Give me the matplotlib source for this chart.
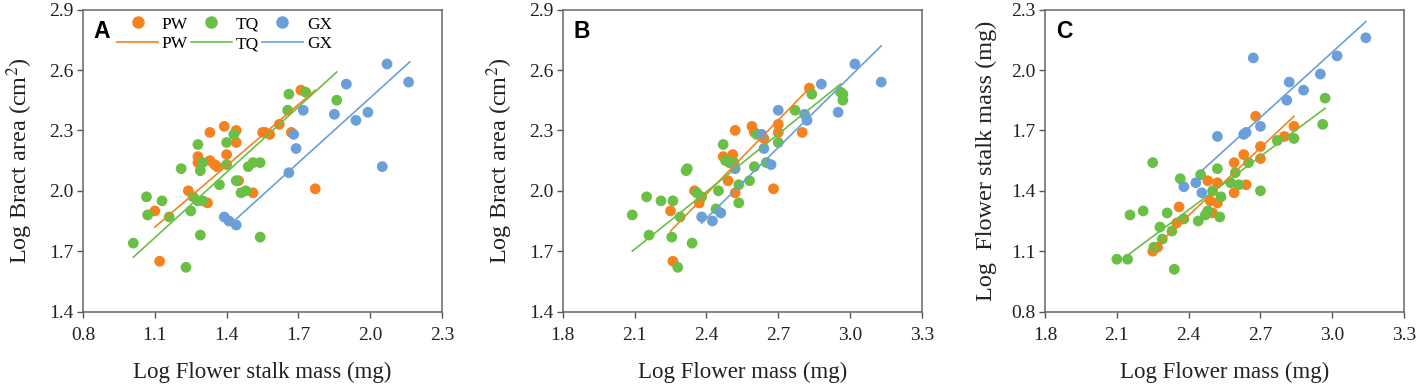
"""three panel scatter with fitted lines: PW / TQ / GX"""
import matplotlib
matplotlib.use("Agg")
import matplotlib.pyplot as plt
from matplotlib.lines import Line2D
import numpy as np

plt.rcParams['font.family'] = ['Liberation Serif', 'DejaVu Serif']
plt.rcParams['mathtext.fontset'] = 'stix'

orange = '#f5821f'
green = '#6abf45'
blue = '#6a9fd9'

# ---- panel A: log flower stalk mass vs log bract area
a_pw_x = [1.10, 1.12, 1.24, 1.28, 1.28, 1.32, 1.33, 1.33, 1.35, 1.36, 1.39, 1.40, 1.44, 1.44,
          1.45, 1.51, 1.55, 1.56, 1.58, 1.62, 1.67, 1.71, 1.77]
a_pw_y = [1.90, 1.65, 2.00, 2.17, 2.14, 1.94, 2.29, 2.15, 2.13, 2.12, 2.32, 2.18, 2.30, 2.24,
          2.05, 1.99, 2.29, 2.29, 2.28, 2.33, 2.29, 2.50, 2.01]
a_tq_x = [1.01, 1.065, 1.07, 1.13, 1.16, 1.21, 1.23, 1.25, 1.26, 1.28, 1.29, 1.29, 1.30, 1.28,
          1.30, 1.37, 1.40, 1.40, 1.43, 1.44, 1.46, 1.48, 1.49, 1.51, 1.54, 1.54, 1.655, 1.66,
          1.73, 1.86]
a_tq_y = [1.74, 1.97, 1.88, 1.95, 1.87, 2.11, 1.62, 1.90, 1.97, 2.23, 1.78, 2.10, 2.14, 1.95,
          1.95, 2.03, 2.24, 2.13, 2.28, 2.05, 1.99, 2.00, 2.12, 2.14, 2.14, 1.77, 2.40, 2.48,
          2.49, 2.45]
a_gx_x = [1.39, 1.41, 1.44, 1.66, 1.68, 1.69, 1.72, 1.85, 1.90, 1.94, 1.99, 2.05, 2.07, 2.16]
a_gx_y = [1.87, 1.85, 1.83, 2.09, 2.28, 2.21, 2.40, 2.38, 2.53, 2.35, 2.39, 2.12, 2.63, 2.54]
a_pw_fit = ([1.10, 1.77], [1.82, 2.50])
a_tq_fit = ([1.01, 1.86], [1.67, 2.59])
a_gx_fit = ([1.435, 2.165], [1.855, 2.64])

# ---- panel B: log flower mass vs log bract area
b_pw_x = [2.25, 2.26, 2.35, 2.37, 2.47, 2.49, 2.51, 2.52, 2.52, 2.59, 2.60, 2.63, 2.64, 2.68,
          2.70, 2.70, 2.80, 2.83]
b_pw_y = [1.90, 1.65, 2.00, 1.94, 2.17, 2.05, 2.18, 2.30, 1.99, 2.32, 2.29, 2.28, 2.26, 2.01,
          2.33, 2.29, 2.29, 2.51]
b_tq_x = [2.09, 2.15, 2.16, 2.21, 2.26, 2.255, 2.29, 2.315, 2.32, 2.34, 2.36, 2.38, 2.28, 2.44,
          2.45, 2.47, 2.48, 2.495, 2.515, 2.535, 2.535, 2.58, 2.60, 2.61, 2.65, 2.70, 2.77,
          2.84, 2.96, 2.97, 2.97]
b_tq_y = [1.88, 1.97, 1.78, 1.95, 1.95, 1.77, 1.87, 2.10, 2.11, 1.74, 1.99, 1.97, 1.62, 1.91,
          2.00, 2.23, 2.15, 2.14, 2.14, 2.03, 1.94, 2.05, 2.12, 2.28, 2.14, 2.24, 2.40, 2.48,
          2.49, 2.48, 2.45]
b_gx_x = [2.38, 2.425, 2.46, 2.52, 2.63, 2.64, 2.67, 2.70, 2.81, 2.82, 2.88, 2.95, 3.02, 3.13]
b_gx_y = [1.87, 1.85, 1.89, 2.11, 2.28, 2.21, 2.13, 2.40, 2.38, 2.35, 2.53, 2.39, 2.63, 2.54]
b_pw_fit = ([2.25, 2.83], [1.80, 2.51])
b_tq_fit = ([2.09, 2.96], [1.70, 2.53])
b_gx_fit = ([2.38, 3.13], [1.84, 2.72])

# ---- panel C: log flower mass vs log flower stalk mass
c_pw_x = [2.25, 2.27, 2.36, 2.35, 2.48, 2.49, 2.50, 2.52, 2.52, 2.59, 2.59, 2.63, 2.64, 2.68,
          2.70, 2.70, 2.80, 2.84]
c_pw_y = [1.10, 1.12, 1.32, 1.24, 1.45, 1.35, 1.29, 1.44, 1.34, 1.39, 1.54, 1.58, 1.43, 1.77,
          1.56, 1.62, 1.67, 1.72]
c_tq_x = [2.10, 2.145, 2.155, 2.21, 2.25, 2.255, 2.28, 2.29, 2.31, 2.33, 2.34, 2.365, 2.38,
          2.44, 2.45, 2.47, 2.48, 2.50, 2.52, 2.535, 2.53, 2.575, 2.595, 2.61, 2.65, 2.70,
          2.77, 2.84, 2.96, 2.97]
c_tq_y = [1.06, 1.06, 1.28, 1.30, 1.54, 1.12, 1.22, 1.16, 1.29, 1.20, 1.01, 1.46, 1.26,
          1.25, 1.48, 1.28, 1.30, 1.40, 1.51, 1.37, 1.27, 1.44, 1.49, 1.43, 1.54, 1.40,
          1.65, 1.66, 1.73, 1.86]
c_gx_x = [2.38, 2.43, 2.455, 2.52, 2.63, 2.64, 2.67, 2.70, 2.81, 2.82, 2.88, 2.95, 3.02, 3.14]
c_gx_y = [1.42, 1.44, 1.39, 1.67, 1.68, 1.69, 2.06, 1.72, 1.85, 1.94, 1.90, 1.98, 2.07, 2.16]
c_pw_fit = ([2.25, 2.84], [1.11, 1.77])
c_tq_fit = ([2.145, 2.97], [1.08, 1.81])
c_gx_fit = ([2.455, 3.14], [1.50, 2.24])

panels = [
    dict(letter='A', pw=(a_pw_x, a_pw_y), tq=(a_tq_x, a_tq_y), gx=(a_gx_x, a_gx_y),
         fits=(a_pw_fit, a_tq_fit, a_gx_fit), xlim=(0.8, 2.3), ylim=(1.4, 2.9),
         xlabel='Log Flower stalk mass (mg)', ylabel='Log Bract area (cm$^2$)'),
    dict(letter='B', pw=(b_pw_x, b_pw_y), tq=(b_tq_x, b_tq_y), gx=(b_gx_x, b_gx_y),
         fits=(b_pw_fit, b_tq_fit, b_gx_fit), xlim=(1.8, 3.3), ylim=(1.4, 2.9),
         xlabel='Log Flower mass (mg)', ylabel='Log Bract area (cm$^2$)'),
    dict(letter='C', pw=(c_pw_x, c_pw_y), tq=(c_tq_x, c_tq_y), gx=(c_gx_x, c_gx_y),
         fits=(c_pw_fit, c_tq_fit, c_gx_fit), xlim=(1.8, 3.3), ylim=(0.8, 2.3),
         xlabel='Log Flower mass (mg)', ylabel='Log  Flower stalk mass (mg)'),
]

fig = plt.figure(figsize=(14.17, 3.89), dpi=100)
lefts = [0.0586, 0.3972, 0.7375]
colors = [orange, green, blue]

for p, left in zip(panels, lefts):
    ax = fig.add_axes([left, 0.199, 0.2534, 0.7763])
    for key, c in zip(['pw', 'tq', 'gx'], colors):
        ax.scatter(p[key][0], p[key][1], s=60, color=c, edgecolors='none', zorder=2)
    for fit, c in zip(p['fits'], colors):
        ax.plot(fit[0], fit[1], color=c, lw=1.2, zorder=3)
    ax.set_xlim(*p['xlim'])
    ax.set_ylim(*p['ylim'])
    ax.set_xticks(np.arange(p['xlim'][0], p['xlim'][1] + 0.01, 0.3))
    ax.set_yticks(np.arange(p['ylim'][0], p['ylim'][1] + 0.01, 0.3))
    ax.xaxis.set_major_formatter(matplotlib.ticker.FormatStrFormatter('%.1f'))
    ax.yaxis.set_major_formatter(matplotlib.ticker.FormatStrFormatter('%.1f'))
    ax.tick_params(direction='out', length=4, width=1, color='#555555',
                   labelsize=14, labelcolor='#222222')
    ax.tick_params(axis='x', pad=7)
    ax.tick_params(axis='y', pad=3)
    for s in ax.spines.values():
        s.set_color('#666666')
        s.set_linewidth(1.1)
    ax.set_xlabel(p['xlabel'], fontsize=16.5, labelpad=13, color='#222222')
    ax.set_ylabel(p['ylabel'], fontsize=17.5, labelpad=10, color='#222222')
    ax.text(0.03, 0.965, p['letter'], transform=ax.transAxes, ha='left', va='top',
            fontsize=16.5, fontweight='bold', family=['Liberation Sans', 'DejaVu Sans'])

    if p['letter'] == 'A':
        handles = []
        for c, name in zip(colors, ['PW', 'TQ', 'GX']):
            handles.append(Line2D([], [], marker='o', ls='none', color=c, markersize=8))
            handles.append(Line2D([], [], color=c, lw=1.2))
        labels = ['PW', 'PW', 'TQ', 'TQ', 'GX', 'GX']
        ax.legend(handles, labels, ncol=3, loc='upper left', bbox_to_anchor=(0.065, 1.012),
                  frameon=False, fontsize=12.5, handlelength=2.4, handletextpad=0.2,
                  columnspacing=0.15, labelspacing=0.2, borderaxespad=0.2)

fig.savefig('out.png', dpi=100)
